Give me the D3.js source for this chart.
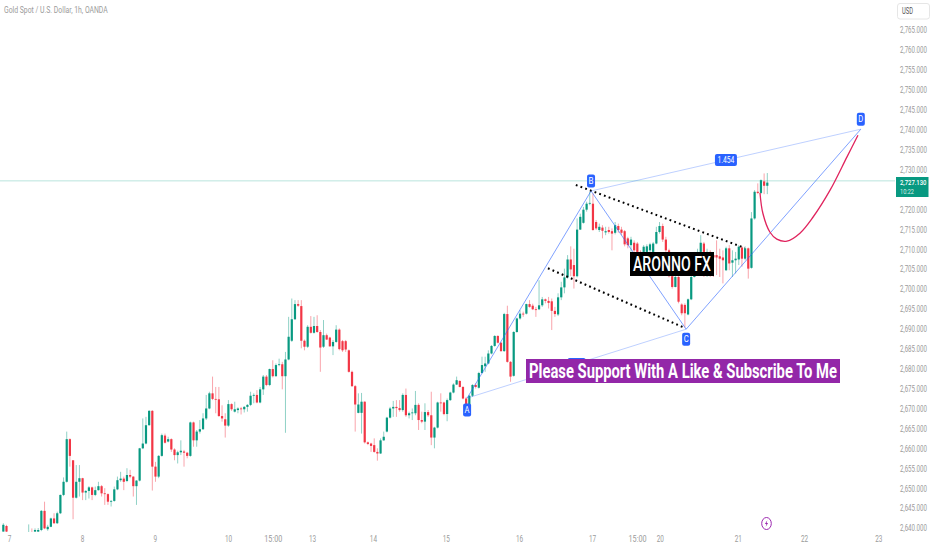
<!DOCTYPE html>
<html>
<head>
<meta charset="utf-8">
<script src="https://cdnjs.cloudflare.com/ajax/libs/d3/7.8.5/d3.min.js"></script>
<style>
  html, body { margin: 0; padding: 0; background: #fff; overflow: hidden; }
  text { font-family: Roboto, sans-serif; }
</style>
</head>
<body>
<div id="chart"></div>
<script>
// one row per ten bars (bars 2-7 sit under the bottom edge)
var opens = [2639.1,2640.5,2637.5,2637.4,2637.2,2637.3,2637.4,2637.3,2637.5,2638.5,
2639.1,2639.1,2639.5,2644.3,2639.7,2640.3,2642.4,2641.2,2643.7,2648.3,
2651.6,2662.3,2657,2647.6,2651.6,2652.5,2648.9,2649.3,2650.2,2648.3,
2649.5,2650.5,2648.7,2648.5,2646.6,2646.8,2649.7,2652,2652.4,2651.8,
2653.3,2652.9,2650.5,2651.9,2660,2661.2,2665.8,2669.4,2655.4,2652.9,
2658.1,2663.2,2661.7,2662.3,2659.7,2658.3,2659,2659.2,2658.9,2658.1,
2666.5,2662,2664.2,2664.8,2667.5,2670,2673.8,2672.4,2672.3,2668.1,
2667.3,2665.7,2671.1,2669.2,2669.6,2670,2669.8,2670.4,2670.9,2673.2,
2673.4,2671.5,2674.8,2678,2675.9,2679.9,2678.1,2680.9,2681.1,2678.1,
2682.3,2687,2692.4,2696.2,2695.7,2687,2685.5,2690.5,2689,2690.7,
2689.2,2685.5,2688.4,2687.8,2685.6,2686.7,2689.8,2686.9,2686.9,2684.6,
2679.2,2675.6,2668.9,2668.9,2671.7,2661.5,2661.2,2660.8,2659.1,2658.7,
2662,2664.2,2667.7,2670,2670.4,2670.1,2669.6,2673.4,2668.3,2668.8,
2668.8,2670.9,2667.1,2666.7,2669.1,2668.3,2662.7,2665.2,2671.5,2671.5,
2668.6,2672.1,2674,2676,2676.9,2675.4,2672.5,2670,2673.2,2675.9,
2675.2,2678.9,2680.6,2681.3,2683.8,2685.7,2688.2,2686.5,2684.4,2693.7,
2681.7,2678.2,2689.2,2692.6,2693.8,2693.8,2696.2,2695.8,2694.9,2694.9,
2695.9,2697.4,2697,2696.9,2694.5,2693.6,2697.9,2700.4,2702.9,2707.4,
2706,2703.2,2714.9,2716.6,2719.9,2721.4,2721.4,2716.8,2714.8,2715.4,
2714.2,2714.8,2714.5,2714.1,2715.8,2714.9,2714.5,2712.7,2711,2711.6,
2711.4,2709.3,2709.3,2709.3,2709.7,2709.3,2711.4,2714.3,2715.8,2712.4,
2709.7,2703.2,2700.5,2703,2696.1,2696,2693.6,2697.4,2703,2708.9,
2709.3,2711.4,2708.1,2709.3,2708.5,2708.5,2708.2,2707.9,2704.7,2710.2,
2706.6,2707.2,2707.4,2710.4,2707.6,2710.2,2705.3,2717.7,2724.4,2724.1,
2727,2725.9];
var highs = [2641.2,2640.8,2637.9,2637.8,2637.6,2637.7,2637.8,2637.7,2640.9,2639.9,
2639.9,2640,2644.5,2646.6,2640.8,2642.6,2643.7,2644.1,2648.4,2652.7,
2664.2,2662.5,2657,2655.8,2655.8,2652.6,2649.5,2650.5,2650.4,2650.4,
2651.6,2650.8,2650,2648.7,2647,2650.4,2652.9,2654.1,2652.9,2655,
2654.6,2653,2652,2660.1,2667.5,2667.9,2669.6,2669.6,2656.6,2658.3,
2663.7,2663.7,2662.9,2662.5,2660,2659.4,2662,2659.6,2659.1,2666.7,
2666.7,2664.6,2667.1,2668.8,2673.4,2674.2,2678,2675.4,2675.4,2670.8,
2668.8,2672.1,2671.3,2671.7,2670.3,2670.4,2670.6,2671.1,2674.2,2673.8,
2674.6,2675.4,2678.4,2678.4,2680,2682.1,2681.3,2682.5,2681.7,2684.2,
2693,2697.6,2697.2,2697.2,2697.2,2687.3,2690.9,2693.2,2693,2693.4,
2689.7,2692.2,2688.8,2688,2687.2,2690.9,2690.1,2687.2,2687.2,2684.8,
2679.5,2675.9,2673.8,2673.9,2671.8,2661.7,2661.4,2662.5,2660,2662.5,
2664.2,2667.9,2670.4,2671.9,2672.1,2672.1,2673.8,2675,2669.2,2670,
2674.4,2671.3,2669.2,2671.3,2669.6,2674.2,2665.4,2671.7,2673.8,2671.7,
2672.5,2674.2,2676.3,2678,2677.1,2675.6,2672.9,2673.4,2676.1,2676.3,
2679.2,2683,2683,2684.6,2685.9,2688.4,2688.4,2686.7,2694,2695.8,
2681.9,2689.4,2692.8,2694.7,2694.3,2696.3,2697.2,2696.3,2695.5,2702.2,
2698,2697.6,2698,2697.6,2695.5,2698.9,2701.8,2705.1,2708.5,2710.7,
2710.1,2717.7,2718.9,2720.6,2721.9,2724.4,2724,2717.3,2716.4,2716,
2715.6,2715.6,2715.2,2716.8,2716.4,2715.6,2714.8,2713.1,2713.1,2712.2,
2711.8,2709.7,2711,2711.2,2711.6,2711.8,2715.6,2716.8,2716.4,2713.1,
2710.1,2703.5,2703.9,2704.7,2696.4,2696.4,2697.6,2703.5,2709.3,2710.1,
2713.5,2711.8,2710.1,2709.7,2709.3,2712.2,2710.1,2709.7,2710.6,2711,
2709.7,2709.3,2711,2710.7,2710.7,2710.4,2719.3,2724.8,2726.5,2727.5,
2729,2729.1];
var lows = [2639.1,2638.9,2637,2636.9,2636.8,2636.9,2637,2636.9,2637,2637.5,
2638.9,2638.8,2639.2,2639.7,2639.3,2640.2,2641,2641,2643.5,2648,
2651.4,2655.4,2642.2,2647.4,2647.9,2647,2647,2647.4,2647,2648,
2649.4,2647.9,2645.8,2645.8,2645.4,2646.6,2649.5,2651.6,2649.5,2651.5,
2652.5,2647.9,2645.8,2651.7,2659.8,2661,2665.7,2649.4,2651.6,2652.5,
2657.9,2661.2,2661.5,2659.1,2657,2656.2,2658.3,2655.4,2657.5,2657.9,
2660.4,2660.4,2663.7,2664.6,2667.1,2669.8,2672.1,2668.8,2667.9,2666.7,
2662.7,2665.4,2669.4,2669,2668.8,2668.5,2669,2669.2,2670.6,2671.3,
2671.3,2671.3,2673.4,2675.6,2675.6,2677.8,2678,2680.6,2674.8,2663.9,
2682.1,2686.7,2692.2,2695.5,2685.1,2684.6,2685.2,2688.8,2688.8,2689,
2679.2,2685.2,2687.2,2685.5,2683.4,2686.5,2684.6,2684.2,2684.2,2679,
2675.4,2664.2,2668.8,2663.7,2661.2,2660.8,2659.1,2658.9,2656.9,2658.6,
2661.9,2664,2667.5,2667.9,2667.9,2669.2,2669.2,2667.9,2667.5,2667.1,
2668.3,2664.6,2666.3,2664.6,2667.9,2660.8,2660,2665,2669.2,2668.3,
2666.8,2671.9,2673.8,2675.9,2675.3,2672.3,2669.4,2669.6,2672.9,2675,
2675,2678.8,2679.2,2681.1,2683.6,2685.5,2686.3,2684.2,2684.2,2681.5,
2676.7,2678,2689,2692.3,2693,2693.6,2695.3,2694.7,2693,2694.7,
2695.5,2696.4,2695.1,2689.7,2693,2693.2,2697.2,2698.9,2702.6,2703.2,
2700.1,2702.9,2714.8,2716.4,2719.4,2721,2714.6,2714.8,2714.3,2712.7,
2713.5,2713.9,2709.7,2713.7,2714.1,2713.5,2710.7,2710.2,2709.3,2709.3,
2708.1,2707.6,2707.2,2708.1,2708.9,2708.9,2711.2,2713.9,2711.8,2708.9,
2702.9,2700.1,2700.4,2696.4,2693.4,2690.3,2693.4,2697.2,2702.9,2704.7,
2704.7,2703,2703,2703,2703,2703.5,2703,2701.4,2704.5,2704.7,
2703,2703.9,2706,2705.6,2707.2,2702.6,2705.1,2717.4,2723.8,2723.8,
2723.8,2723.8];
var closes = [2640.8,2639.1,2637.4,2637.2,2637.3,2637.4,2637.3,2637.5,2638,2638,
2639.5,2639.5,2644.3,2639.9,2640.3,2642.4,2641.2,2643.7,2648.3,2651.6,
2662.3,2658.1,2647.6,2651.6,2652.5,2648.9,2649.3,2650.2,2648.3,2649.5,
2650.5,2648.7,2648.5,2646.6,2646.8,2649.7,2652,2652.4,2651.6,2653.3,
2652.9,2650.5,2651.9,2660,2661.2,2665.8,2669.4,2655.4,2652.9,2658.1,
2663.3,2661.4,2662.3,2659.7,2658.3,2659,2659.4,2658.9,2658.1,2666.5,
2662,2664.2,2664.8,2667.5,2670,2673.8,2672.4,2672.3,2668.1,2667.5,
2665.7,2671.1,2669.8,2669.8,2670,2669.8,2670.4,2670.9,2673.2,2673.4,
2671.5,2674.8,2678,2675.9,2679.9,2678.1,2680.9,2681.1,2678.1,2682.3,
2688,2692.4,2696.2,2695.8,2687,2685.5,2690.5,2689,2690.7,2689.2,
2685.3,2688.4,2687.3,2685.6,2686.7,2689.8,2684.9,2684.6,2684.8,2679.2,
2675.6,2671,2671,2671.7,2661.5,2661.1,2660.6,2659.1,2658.7,2662,
2662.9,2667.7,2670,2670.4,2670.1,2669.6,2673.4,2668.3,2668.8,2669,
2670.9,2667.1,2666.7,2669.1,2668.3,2662.7,2665.2,2671.5,2671.4,2668.6,
2672.1,2674,2676,2677.1,2675.4,2672.5,2669.8,2673.2,2675.9,2675.4,
2678.9,2680.9,2681.3,2683.8,2685.7,2688.2,2686.5,2684.4,2693.7,2681.7,
2678,2689.2,2692.6,2693.8,2693.7,2696.2,2695.5,2694.9,2694.8,2695.9,
2697.4,2697,2696.5,2694.5,2693.7,2697.9,2700.4,2702.9,2707.4,2704.9,
2703.2,2714.9,2718.1,2719.9,2721.4,2721.6,2714.8,2715.2,2715.6,2714.6,
2714.5,2714.3,2713.9,2716,2714.8,2714.1,2711.2,2711,2712.4,2709.7,
2709.3,2708.1,2710.6,2710.7,2711.2,2711.4,2714.3,2715.8,2712.4,2709.7,
2703.2,2700.5,2703,2696.8,2693.9,2693.9,2697.4,2703,2708.9,2709.3,
2711.6,2709.3,2709.3,2707.9,2707.9,2707.9,2707.6,2707.2,2710.2,2706.4,
2707.2,2707.6,2710.6,2707.6,2710.2,2705.1,2717.7,2724.4,2724.1,2727.3,
2725.9,2726.7];

// 2,725 is hidden under the last price tag
var priceTicks = [2640,2645,2650,2655,2660,2665,2670,2675,2680,2685,2690,2695,2700,2705,2710,2715,2720,2730,2735,2740,2745,2750,2755,2760,2765];
var lastPrice = 2727.13;
var dateTicks = [1.8, 24.8, 47.8, 70.9, 85, 97.4, 116.6, 139.6, 162.7, 185.7, 199.9, 207.1, 231.7, 252.6, 276];
var dateLabels = ['7', '8', '9', '10', '15:00', '13', '14', '15', '16', '17', '15:00', '20', '21', '22', '23'];

var patternNames = ['A', 'B', 'C', 'D'];
var patternBars = [146.3, 185.4, 215.4, 270.5];
var patternPrices = [2672.6, 2724.6, 2689.9, 2740.1];

var upperDotBars = [180.6, 233.9];
var upperDotPrices = [2726.1, 2710.3];
var lowerDotBars = [171.8, 215];
var lowerDotPrices = [2705.2, 2690.2];

var curveBars = [238.7, 239.6, 241.8, 244, 247.2, 251.3, 255.4, 260.8, 266.1, 269.6];
var curvePrices = [2724.1, 2719, 2714.3, 2712.5, 2712, 2714, 2718, 2724.8, 2733.1, 2738.6];

var svgWidth = 932, svgHeight = 550, paneRight = 895, paneBottom = 532;
var green = '#089981', red = '#f23645', blue = '#2962ff', tickGrey = '#9b9b9b';

var x = d3.scaleLinear().domain([0, 241]).range([3.33, 767.3]);
var y = d3.scaleLinear().domain([2640, 2765]).range([528, 30]);

var svg = d3.select('#chart').append('svg')
    .attr('width', svgWidth)
    .attr('height', svgHeight)
    .style('display', 'block');

svg.append('clipPath').attr('id', 'pane').append('rect')
    .attr('width', paneRight).attr('height', paneBottom);

// everything is squeezed sideways in the screenshot, so scale text to a set width
function squeeze(sel, len) {
    sel.each(function() {
        var t = d3.select(this);
        var x0 = +t.attr('x') || 0;
        var sx = len / this.getComputedTextLength();
        t.attr('x', 0).attr('transform', 'translate(' + x0 + ',0) scale(' + sx + ',1)');
    });
}

var pane = svg.append('g').attr('clip-path', 'url(#pane)');

pane.append('line')
    .attr('x1', 0).attr('x2', paneRight)
    .attr('y1', y(lastPrice)).attr('y2', y(lastPrice))
    .attr('stroke', '#b9e4dd').attr('stroke-width', 1);

var bars = d3.range(closes.length);
function barColor(i) { return closes[i] >= opens[i] ? green : red; }

pane.append('g').selectAll('line').data(bars).enter().append('line')
    .attr('x1', function(i) { return x(i); })
    .attr('x2', function(i) { return x(i); })
    .attr('y1', function(i) { return y(highs[i]); })
    .attr('y2', function(i) { return y(lows[i]); })
    .attr('stroke', barColor)
    .attr('stroke-opacity', 0.5)
    .attr('stroke-width', 0.9);

pane.append('g').selectAll('rect').data(bars).enter().append('rect')
    .attr('x', function(i) { return x(i) - 1.1; })
    .attr('width', 2.2)
    .attr('y', function(i) { return y(Math.max(opens[i], closes[i])); })
    .attr('height', function(i) { return Math.max(0.8, Math.abs(y(opens[i]) - y(closes[i]))); })
    .attr('fill', barColor);

// ABCD pattern legs, the two long ones are fainter
function patternX(i) { return x(patternBars[i]); }
function patternY(i) { return y(patternPrices[i]); }
var legs = [[0, 1, 0.6], [1, 2, 0.6], [2, 3, 0.6], [0, 2, 0.3], [1, 3, 0.3]];
pane.append('g').selectAll('line').data(legs).enter().append('line')
    .attr('x1', function(d) { return patternX(d[0]); })
    .attr('y1', function(d) { return patternY(d[0]); })
    .attr('x2', function(d) { return patternX(d[1]); })
    .attr('y2', function(d) { return patternY(d[1]); })
    .attr('stroke', blue)
    .attr('stroke-opacity', function(d) { return d[2]; })
    .attr('stroke-width', 1);

// dotted channel
[[upperDotBars, upperDotPrices], [lowerDotBars, lowerDotPrices]].forEach(function(d) {
    pane.append('line')
        .attr('x1', x(d[0][0])).attr('y1', y(d[1][0]))
        .attr('x2', x(d[0][1])).attr('y2', y(d[1][1]))
        .attr('stroke', '#000')
        .attr('stroke-width', 2)
        .attr('stroke-dasharray', '1.8 3.2');
});

var curve = d3.line()
    .x(function(i) { return x(curveBars[i]); })
    .y(function(i) { return y(curvePrices[i]); })
    .curve(d3.curveCatmullRom);
pane.append('path')
    .attr('d', curve(d3.range(curveBars.length)))
    .attr('fill', 'none')
    .attr('stroke', '#e0245e')
    .attr('stroke-width', 1.3);

// pattern point badges
var badgeOffset = [12, -10, 10, -10];
var badges = svg.append('g').selectAll('g').data(d3.range(patternNames.length)).enter().append('g')
    .attr('transform', function(i) { return 'translate(' + patternX(i) + ',' + (patternY(i) + badgeOffset[i]) + ')'; });
badges.append('rect')
    .attr('x', -4).attr('y', -6.5).attr('width', 8).attr('height', 13).attr('rx', 2)
    .attr('fill', blue);
badges.append('text')
    .attr('text-anchor', 'middle').attr('y', 3)
    .attr('font-size', 8.5).attr('fill', '#fff')
    .text(function(i) { return patternNames[i]; })
    .call(squeeze, 5);

// ratio badges sit at the middle of the long legs
var ratioX = (patternX(1) + patternX(3)) / 2, ratioY = (patternY(1) + patternY(3)) / 2;
svg.append('rect')
    .attr('x', ratioX - 11).attr('y', ratioY - 6).attr('width', 22).attr('height', 12).attr('rx', 2)
    .attr('fill', blue);
svg.append('text')
    .attr('x', ratioX).attr('y', ratioY + 3)
    .attr('text-anchor', 'middle').attr('font-size', 9).attr('fill', '#fff')
    .text('1.454')
    .call(squeeze, 17);
svg.append('rect')
    .attr('x', (patternX(0) + patternX(2)) / 2 - 9).attr('y', 358)
    .attr('width', 18).attr('height', 12).attr('rx', 2)
    .attr('fill', blue);

// text boxes drawn on the chart
svg.append('rect').attr('x', 630).attr('y', 252).attr('width', 84).attr('height', 24).attr('fill', '#000');
svg.append('text')
    .attr('x', 633).attr('y', 271)
    .attr('font-size', 20).attr('font-weight', 500).attr('fill', '#fff')
    .text('ARONNO FX')
    .call(squeeze, 78);
svg.append('rect').attr('x', 526).attr('y', 359).attr('width', 314).attr('height', 24).attr('fill', '#9327a8');
svg.append('text')
    .attr('x', 529).attr('y', 378)
    .attr('font-size', 20).attr('font-weight', 700).attr('fill', '#fff')
    .text('Please Support With A Like & Subscribe To Me')
    .call(squeeze, 308);

// price axis
var yAxis = d3.axisRight(y)
    .tickValues(priceTicks)
    .tickSize(0)
    .tickPadding(5)
    .tickFormat(d3.format(',.3f'));
var yAxisG = svg.append('g').attr('transform', 'translate(' + paneRight + ',0)').call(yAxis);
yAxisG.select('.domain').remove();
yAxisG.selectAll('text')
    .attr('font-size', 9).attr('font-family', 'Roboto, sans-serif').attr('fill', tickGrey)
    .call(squeeze, 27);

// date axis
var xAxis = d3.axisBottom(x)
    .tickValues(dateTicks)
    .tickSize(0)
    .tickPadding(4)
    .tickFormat(function(d, i) { return dateLabels[i]; });
var xAxisG = svg.append('g').attr('transform', 'translate(0,' + paneBottom + ')').call(xAxis);
xAxisG.select('.domain').remove();
xAxisG.selectAll('text')
    .attr('font-size', 9).attr('font-family', 'Roboto, sans-serif').attr('fill', tickGrey)
    .each(function(d, i) { d3.select(this).call(squeeze, dateLabels[i].length * 3.6); });

// last price tag
svg.append('rect').attr('x', 896).attr('y', 177).attr('width', 32.5).attr('height', 20).attr('fill', green);
svg.append('text')
    .attr('x', 900).attr('y', 185)
    .attr('font-size', 8).attr('font-weight', 500).attr('fill', '#fff')
    .text(d3.format(',.3f')(lastPrice))
    .call(squeeze, 26.5);
svg.append('text')
    .attr('x', 900).attr('y', 194.5)
    .attr('font-size', 8).attr('fill', '#fff').attr('fill-opacity', 0.85)
    .text('10:22')
    .call(squeeze, 14);

// currency button
svg.append('rect')
    .attr('x', 897.5).attr('y', 3.5).attr('width', 32).attr('height', 15.5).attr('rx', 2.5)
    .attr('fill', '#fff').attr('stroke', '#e6e6e6');
svg.append('text')
    .attr('x', 902).attr('y', 14.5)
    .attr('font-size', 9).attr('fill', '#555')
    .text('USD')
    .call(squeeze, 11);

// symbol title
svg.append('text')
    .attr('x', 4).attr('y', 13.5)
    .attr('font-size', 9.5).attr('fill', tickGrey)
    .text('Gold Spot / U.S. Dollar, 1h, OANDA')
    .call(squeeze, 104);

// event marker
var eventMark = svg.append('g').attr('transform', 'translate(766.5,523.5)');
eventMark.append('ellipse')
    .attr('rx', 4.8).attr('ry', 6)
    .attr('fill', '#fff').attr('stroke', '#9c27b0').attr('stroke-width', 1);
eventMark.append('path')
    .attr('d', 'M0.8,-3.2 L-1.6,0.5 L-0.1,0.5 L-0.8,3.2 L1.6,-0.6 L0.1,-0.6 Z')
    .attr('fill', '#9c27b0');
</script>
</body>
</html>
